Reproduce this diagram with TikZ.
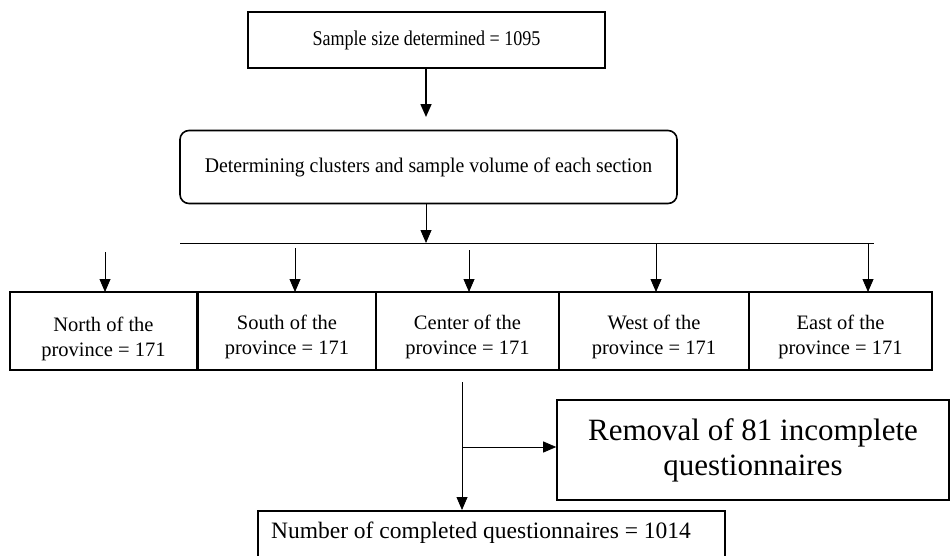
\documentclass[tikz,border=0pt]{standalone}
\usepackage{fontspec}
\setmainfont{Liberation Serif}
\usetikzlibrary{arrows.meta,positioning,calc}
\begin{document}
\begin{tikzpicture}[x=1pt,y=-1pt,
  box/.style={draw,line width=1.6pt,inner sep=0pt,align=center},
  thin/.style={line width=0.8pt,-{Triangle[width=11pt,length=13pt]}},
  thick/.style={line width=1.6pt,-{Triangle[width=11pt,length=13pt]}},
  region/.style={box,minimum height=78pt},
  regtxt/.style={align=center,inner sep=0pt,font=\fontsize{20.5}{24.5}\selectfont}
]
\useasboundingbox (0,0) rectangle (952,555);
\node[box,minimum width=357pt,minimum height=56pt] (top) at (426.5,40) {\scalebox{0.86}[1]{\fontsize{21}{24}\selectfont Sample size determined = 1095}};
\node[box,rounded corners=9pt,minimum width=497pt,minimum height=73pt] (mid) at (428.5,167) {\scalebox{0.95}[1]{\fontsize{20.8}{24}\selectfont Determining clusters and sample volume of each section}};
\draw[thick] (top.south -| 426,0) -- (426,117) coordinate (a1);
\coordinate (hl) at (180,243);
\coordinate (hr) at (874,243);
\draw[line width=0.8pt] (hl) -- (hr);
\draw[thin] (mid.south -| 426,0) -- (426,243);
\node[region,minimum width=187pt] (north) at (103.5,331) {};
\node[region,minimum width=178pt] (south) at (287,331) {};
\node[region,minimum width=183pt] (center) at (467.5,331) {};
\node[region,minimum width=190pt] (west) at (654,331) {};
\node[region,minimum width=183pt] (east) at (840.5,331) {};
\node[regtxt] (northt) at (103.5,339) {North of the\\province = 171};
\node[regtxt] (southt) at (287,337) {South of the\\province = 171};
\node[regtxt] (centert) at (467.5,337) {Center of the\\province = 171};
\node[regtxt] (westt) at (654,337) {West of the\\province = 171};
\node[regtxt] (eastt) at (840.5,337) {East of the\\province = 171};
\draw[thin] (105,252) -- (105,292);
\draw[thin] (295,248) -- (295,292);
\draw[thin] (469,250) -- (469,292);
\draw[thin] (656,244) -- (656,292);
\draw[thin] (868,243) -- (868,292);
\node[box,minimum width=392pt,minimum height=100pt,font=\fontsize{31}{35}\selectfont] (rem) at (753,450) {Removal of 81 incomplete\\questionnaires};
\node[box,minimum width=467pt,minimum height=56pt,anchor=north] (bot) at (491.5,510) {};
\node[font=\fontsize{23.5}{27}\selectfont] (bottxt) at (481,533) {Number of completed questionnaires = 1014};
\coordinate (c1) at (462,382);
\coordinate (c2) at (462,447);
\draw[thin] (c1) -- (c1 |- bot.north);
\draw[thin] (c2) -- (c2 -| rem.west);
\end{tikzpicture}
\end{document}
